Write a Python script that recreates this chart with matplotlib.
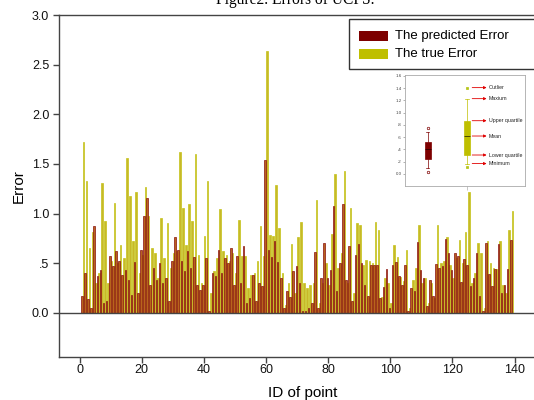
import numpy as np
import matplotlib
matplotlib.use("Agg")
import matplotlib.pyplot as plt
from matplotlib.patches import Rectangle

# ---------------- data ----------------
point_ids = list(range(1, 140))
predicted_error = [
    0.17, 0.40, 0.14, 0.05, 0.88, 0.37, 0.43, 0.10, 0.12, 0.57,
    0.47, 0.62, 0.52, 0.38, 0.43, 0.33, 0.18, 0.51, 0.20, 0.63,
    0.98, 1.16, 0.28, 0.45, 0.33, 0.50, 0.30, 0.35, 0.12, 0.52,
    0.77, 0.63, 0.52, 0.42, 0.62, 0.45, 0.56, 0.28, 0.23, 0.28,
    0.55, 0.02, 0.40, 0.37, 0.63, 0.40, 0.55, 0.50, 0.65, 0.28,
    0.57, 0.30, 0.67, 0.10, 0.15, 0.38, 0.12, 0.30, 0.27, 1.54,
    0.63, 0.56, 0.72, 0.51, 0.35, 0.05, 0.22, 0.16, 0.42, 0.47,
    0.30, 0.02, 0.02, 0.05, 0.10, 0.61, 0.05, 0.35, 0.70, 0.35,
    0.43, 1.08, 0.22, 0.50, 1.10, 0.33, 0.67, 0.12, 0.58, 0.69,
    0.50, 0.28, 0.17, 0.48, 0.48, 0.48, 0.15, 0.26, 0.44, 0.05,
    0.48, 0.51, 0.37, 0.28, 0.48, 0.02, 0.25, 0.22, 0.71, 0.43,
    0.35, 0.07, 0.33, 0.17, 0.49, 0.45, 0.47, 0.74, 0.60, 0.43,
    0.60, 0.57, 0.31, 0.54, 0.48, 0.27, 0.35, 0.60, 0.17, 0.02,
    0.70, 0.39, 0.27, 0.44, 0.69, 0.20, 0.28, 0.44, 0.73,
]
true_error = [
    1.72, 1.33, 0.65, 0.82, 0.30, 0.40, 1.31, 0.93, 0.30, 0.52,
    1.11, 0.50, 0.68, 0.55, 1.56, 1.18, 0.72, 1.22, 0.40, 0.58,
    1.27, 0.98, 0.65, 0.60, 0.35, 0.96, 0.55, 0.91, 0.45, 0.60,
    0.62, 1.62, 1.06, 0.68, 1.10, 0.93, 1.60, 0.58, 0.30, 0.78,
    1.33, 0.20, 0.42, 0.55, 1.05, 0.62, 0.58, 0.52, 0.60, 0.40,
    0.94, 0.57, 0.57, 0.25, 0.38, 0.40, 0.52, 0.88, 0.57, 2.64,
    0.79, 0.78, 1.29, 0.86, 0.40, 0.08, 0.30, 0.69, 0.20, 0.77,
    0.92, 0.30, 0.25, 0.28, 0.30, 1.14, 0.10, 0.30, 0.50, 0.28,
    0.80, 1.40, 0.45, 0.60, 1.43, 0.30, 1.06, 0.20, 0.91, 0.89,
    0.48, 0.53, 0.52, 0.50, 0.92, 0.84, 0.16, 0.35, 0.30, 0.10,
    0.68, 0.56, 0.36, 0.32, 0.63, 0.05, 0.33, 0.45, 0.89, 0.30,
    0.35, 0.10, 0.30, 0.15, 0.89, 0.50, 0.52, 0.77, 0.48, 0.35,
    0.55, 0.73, 0.50, 0.82, 1.22, 0.30, 0.40, 0.70, 0.60, 0.05,
    0.72, 0.50, 0.45, 0.44, 0.72, 0.28, 0.20, 0.84, 1.03,
]
series_labels = ["The predicted Error", "The true Error"]
y_ticks = [0.0, 0.5, 1.0, 1.5, 2.0, 2.5, 3.0]
y_tick_labels = ["0.0", ".5", "1.0", "1.5", "2.0", "2.5", "3.0"]
x_ticks = [0, 20, 40, 60, 80, 100, 120, 140]

# inset box-plot legend (statistics)
inset_stats_pred = dict(q1=0.24, med=0.40, q3=0.53, whislo=0.09, whishi=0.68, fliers=[0.75, 0.03])
inset_stats_true = dict(q1=0.31, med=0.62, q3=0.87, whislo=0.17, whishi=1.23, fliers=[1.41, 0.11])
inset_y_ticks = [0.0, 0.2, 0.4, 0.6, 0.8, 1.0, 1.2, 1.4, 1.6]
inset_y_tick_labels = ["0.0", ".2", ".4", ".6", ".8", "1.0", "1.2", "1.4", "1.6"]
inset_notes = ["Outlier", "Maxium", "Upper quartile", "Mean", "Lower quartile", "Minimum"]
inset_note_values = [1.41, 1.23, 0.87, 0.62, 0.31, 0.17]

RED = "#7d0000"
YEL = "#bfbf00"
DARK = "#444444"

plt.rcParams['font.family'] = ['Liberation Sans', 'DejaVu Sans']

W, H = 534, 400
fig = plt.figure(figsize=(W / 100, H / 100), dpi=100)

def px_axes(l, t, r, b):
    return [l / W, 1 - b / H, (r - l) / W, (b - t) / H]

ax = fig.add_axes(px_axes(59, 15, 546, 357))
ids = np.array(point_ids)
ax.bar(ids + 0.25, true_error, width=0.5, color="#c8b828", edgecolor="#c4c418",
       linewidth=0.5, zorder=2)
ax.bar(ids - 0.25, predicted_error, width=0.5, color="#b8641c", edgecolor="#8a1010",
       linewidth=0.5, zorder=3)
ax.axhline(0, color=DARK, lw=1.0, zorder=4)

ax.set_xlim(-6.6, 150.1)
ax.set_ylim(-0.443, 3.0)
ax.set_yticks(y_ticks)
ax.set_yticklabels(y_tick_labels)
ax.set_xticks(x_ticks)
for s in ['left', 'top', 'bottom', 'right']:
    ax.spines[s].set_color(DARK)
    ax.spines[s].set_linewidth(1.0)
ax.tick_params(axis='y', direction='out', length=4, width=1, color=DARK,
               labelsize=9, labelcolor='#111111', pad=3)
ax.tick_params(axis='x', direction='out', length=4, width=1, color=DARK,
               labelsize=9, labelcolor='#111111', pad=1)
ax.set_ylabel("Error", fontsize=11, labelpad=4.5)
ax.set_xlabel("ID of point", fontsize=11, labelpad=7.5)

# title, partially cut at the top
fig.text(0.552, 1 - 4 / H, "Figure2. Errors of UCPS.", family='Liberation Serif',
         fontsize=11.2, ha='center', va='baseline')

# legend drawn as a box
fig.patches.append(Rectangle((349 / W, 1 - 69 / H), 200 / W, 50 / H, transform=fig.transFigure,
                             facecolor='white', edgecolor='#333333', lw=1.0, zorder=5))
for k, (lab, col) in enumerate(zip(series_labels, [RED, YEL])):
    yc = 36 + 18 * k
    fig.patches.append(Rectangle((359 / W, 1 - (yc + 5) / H), 29 / W, 10 / H,
                                 transform=fig.transFigure, facecolor=col, edgecolor='none', zorder=6))
    fig.text(395 / W, 1 - yc / H, lab, fontsize=9.5, va='center', ha='left', zorder=7)

# inset box-plot explanation
ia = fig.add_axes(px_axes(405, 75, 525, 186))
ia.set_xlim(0, 1)
ia.set_ylim(-0.196, 1.616)
bp = ia.bxp([inset_stats_pred, inset_stats_true], positions=[0.19, 0.517], widths=[0.05, 0.056],
            patch_artist=True, showfliers=True, manage_ticks=False)
for b, col in zip(bp['boxes'], [RED, YEL]):
    b.set_facecolor(col)
    b.set_edgecolor(col)
    b.set_linewidth(0.5)
for k, m in enumerate(bp['medians']):
    m.set_color('#333300' if k == 1 else '#300000')
    m.set_linewidth(0.6)
for k, w in enumerate(bp['whiskers']):
    w.set_color(RED if k < 2 else YEL)
    w.set_linewidth(0.5)
for k, c in enumerate(bp['caps']):
    c.set_color(RED if k < 2 else YEL)
    c.set_linewidth(0.5)
for k, f in enumerate(bp['fliers']):
    f.set_marker('o' if k == 0 else 's')
    f.set_markersize(1.8)
    f.set_markerfacecolor('none' if k == 0 else '#9acd32')
    f.set_markeredgecolor(RED if k == 0 else YEL)
    f.set_markeredgewidth(0.5)
ia.set_yticks(inset_y_ticks)
ia.set_yticklabels(inset_y_tick_labels)
ia.set_xticks([0.517])
ia.set_xticklabels([])
ia.tick_params(axis='y', length=1.5, width=0.4, labelsize=3.2, pad=1, color='#777777', labelcolor='#444444')
ia.tick_params(axis='x', length=3, width=0.4, color='#999999')
for s in ia.spines.values():
    s.set_color('#aaaaaa')
    s.set_linewidth(0.6)
for note, v in zip(inset_notes, inset_note_values):
    ia.annotate("", xy=(0.68, v), xytext=(0.56, v),
                arrowprops=dict(arrowstyle='-|>', color='#e00000', lw=0.6,
                                mutation_scale=4, shrinkA=0, shrinkB=0))
    ia.text(0.70, v, note, fontsize=3.8, va='center', ha='left', color='#222222')

fig.savefig("out.png", dpi=100)
